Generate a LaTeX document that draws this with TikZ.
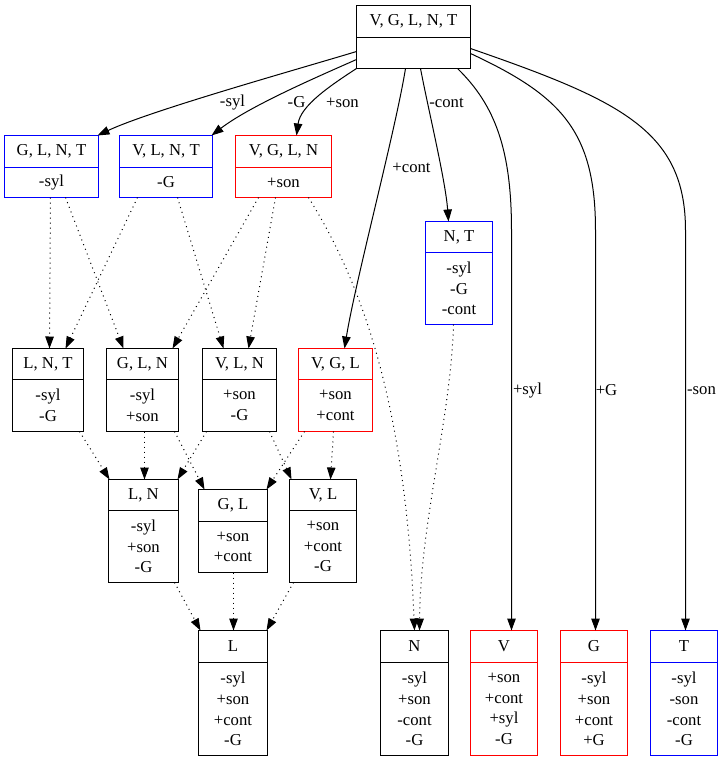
\documentclass[tikz,border=0pt]{standalone}
\usepackage{fontspec}
\setmainfont{Liberation Serif}
\usetikzlibrary{arrows.meta,fit}

\definecolor{recblue}{RGB}{0,0,255}
\definecolor{recred}{RGB}{255,0,0}

\tikzset{
  boxarea/.style={inner sep=0pt, outer sep=0pt},
  frame/.style={line width=1.2pt},
  txt/.style={inner sep=0pt, align=center, font=\fontsize{16.7}{20.7}\selectfont},
  solidedge/.style={line width=1pt, -{Triangle[length=12pt,width=8.5pt]}},
  dotedge/.style={solidedge, dash pattern=on 1pt off 4pt},
}

% record box: name, colour, x1, y1, x2, y2, divider y, title, body
\newcommand\recbox[9]{%
  \node[boxarea, fit={(#3,#4)(#5,#6)}] (#1) {};
  \node[txt] (#1-title) at ({(#3+#5)/2},{(#4+#7)/2}) {#8};
  \node[txt] (#1-body) at ({(#3+#5)/2},{(#7+#6)/2}) {#9};
  \draw[frame, color=#2] (#1.north west) rectangle (#1.south east)
        (#1.west |- 0,#7) -- (#1.east |- 0,#7);
}

\begin{document}
\begin{tikzpicture}[x=1pt,y=-1pt]
\useasboundingbox (0,0) rectangle (723,761);
\begin{scope}[xshift=0.5pt,yshift=-0.5pt]

% lattice nodes
\recbox{top}{black}{356}{5}{470}{68}{37}{V, G, L, N, T}{}
\recbox{glnt}{recblue}{4}{135}{98}{197}{167}{G, L, N, T}{-syl}
\recbox{vlnt}{recblue}{119}{135}{212}{197}{167}{V, L, N, T}{-G}
\recbox{vgln}{recred}{235}{135}{331}{197}{167}{V, G, L, N}{+son}
\recbox{nt}{recblue}{425}{221}{492}{324}{252}{N, T}{-syl\\-G\\-cont}
\recbox{lnt}{black}{12}{348}{83}{431}{379}{L, N, T}{-syl\\-G}
\recbox{gln}{black}{106}{348}{178}{431}{379}{G, L, N}{-syl\\+son}
\recbox{vln}{black}{202}{348}{276}{431}{379}{V, L, N}{+son\\-G}
\recbox{vgl}{recred}{298}{348}{372}{431}{379}{V, G, L}{+son\\+cont}
\recbox{ln}{black}{108}{479}{178}{582}{510}{L, N}{-syl\\+son\\-G}
\recbox{gl}{black}{198}{489}{267}{572}{521}{G, L}{+son\\+cont}
\recbox{vl}{black}{289}{479}{356}{582}{510}{V, L}{+son\\+cont\\-G}
\recbox{l}{black}{198}{630}{267}{755}{662}{L}{-syl\\+son\\+cont\\-G}
\recbox{n}{black}{380}{630}{448}{755}{662}{N}{-syl\\+son\\-cont\\-G}
\recbox{v}{recred}{470}{630}{537}{755}{662}{V}{+son\\+cont\\+syl\\-G}
\recbox{g}{recred}{560}{630}{627}{755}{662}{G}{-syl\\+son\\+cont\\+G}
\recbox{t}{recblue}{650}{630}{717}{755}{662}{T}{-syl\\-son\\-cont\\-G}

% feature edges from the top node
\draw[solidedge] (top.west |- 0,51) .. controls (300,68) and (150,110) .. (97,0 |- glnt.north);
\draw[solidedge] (top.west |- 0,59) .. controls (320,75) and (250,105) .. (211,0 |- vlnt.north);
\draw[solidedge] (top.south west) .. controls (330,85) and (300,105) .. (296,0 |- vgln.north);
\draw[solidedge] (405,0 |- top.south) .. controls (395,130) and (355,280) .. (344,0 |- vgl.north);
\draw[solidedge] (420,0 |- top.south) .. controls (428,110) and (445,180) .. (448,0 |- nt.north);
\draw[solidedge] (457,0 |- top.south) .. controls (495,105) and (511,150) .. (511,230) -- (511,0 |- v.north);
\draw[solidedge] (top.east |- 0,53) .. controls (560,95) and (595,130) .. (595,230) -- (595,0 |- g.north);
\draw[solidedge] (top.east |- 0,48) .. controls (620,100) and (685,130) .. (685,230) -- (685,0 |- t.north);

% edge labels
\node[txt] (lab-syl) at (232,102) {-syl};
\node[txt] (lab-G) at (296,102) {-G};
\node[txt] (lab-son) at (342,102) {+son};
\node[txt] (lab-cont) at (411,167) {+cont};
\node[txt] (lab-ncont) at (446,102) {-cont};
\node[txt] (lab-psyl) at (527,390) {+syl};
\node[txt] (lab-pG) at (606,390) {+G};
\node[txt] (lab-nson) at (701,390) {-son};

% inclusion edges (dotted)
\draw[dotedge] (50,0 |- glnt.south) -- (49,0 |- lnt.north);
\draw[dotedge] (65,0 |- glnt.south) -- (123,0 |- gln.north);
\draw[dotedge] (137,0 |- vlnt.south) -- (65,0 |- lnt.north);
\draw[dotedge] (177,0 |- vlnt.south) -- (223,0 |- vln.north);
\draw[dotedge] (258,0 |- vgln.south) -- (172,0 |- gln.north);
\draw[dotedge] (275,0 |- vgln.south) -- (248,0 |- vln.north);
\draw[dotedge] (308,0 |- vgln.south) .. controls (360,280) and (405,400) .. (414,0 |- n.north);
\draw[dotedge] (453,0 |- nt.south) .. controls (450,420) and (420,520) .. (419,0 |- n.north);
\draw[dotedge] (79,0 |- lnt.south) -- (109,0 |- ln.north);
\draw[dotedge] (144,0 |- gln.south) -- (144,0 |- ln.north);
\draw[dotedge] (206,0 |- vln.south) -- (177,0 |- ln.north);
\draw[dotedge] (174,0 |- gln.south) -- (204,0 |- gl.north);
\draw[dotedge] (269,0 |- vln.south) -- (291,0 |- vl.north);
\draw[dotedge] (304,0 |- vgl.south) -- (266,0 |- gl.north);
\draw[dotedge] (333,0 |- vgl.south) -- (330,0 |- vl.north);
\draw[dotedge] (174,0 |- ln.south) -- (200,0 |- l.north);
\draw[dotedge] (233,0 |- gl.south) -- (233,0 |- l.north);
\draw[dotedge] (293,0 |- vl.south) -- (266,0 |- l.north);
\end{scope}
\end{tikzpicture}
\end{document}
